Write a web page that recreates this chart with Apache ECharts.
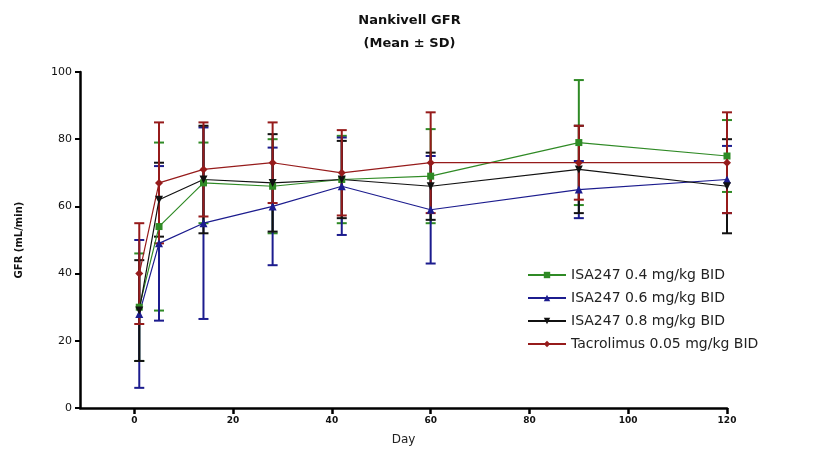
<!DOCTYPE html>
<html>
<head>
<meta charset="utf-8">
<script src="https://cdn.jsdelivr.net/npm/echarts@6/dist/echarts.min.js"></script>
<style>
  html, body { margin: 0; padding: 0; background: #fff; }
  #chart { width: 819px; height: 455px; }
</style>
</head>
<body>
<div id="chart"></div>
<script>
// study days
const days = [1, 5, 14, 28, 42, 60, 90, 120]
const xTicks = [0, 20, 40, 60, 80, 100, 120]

// GFR mean and SD per group (mL/min)
const isa04Mean = [30, 54, 67, 66, 68, 69, 79, 75]
const isa04Sd = [16, 25, 12, 14, 13, 14, 18.6, 10.7]
const isa06Mean = [28, 49, 55, 60, 66, 59, 65, 68]
const isa06Sd = [22, 23, 28.5, 17.5, 14.5, 16, 8.5, 10]
const isa08Mean = [29, 62, 68, 67, 68, 66, 71, 66]
const isa08Sd = [15, 11, 16, 14.5, 11.5, 10, 13, 14]
const tacMean = [40, 67, 71, 73, 70, 73, 73, 73]
const tacSd = [15, 18, 14, 12, 12.7, 15, 11, 15]

const groups = [
  { name: 'ISA247 0.4 mg/kg BID', mean: isa04Mean, sd: isa04Sd, color: '#2f8a25', symbol: 'rect', size: 7 },
  { name: 'ISA247 0.6 mg/kg BID', mean: isa06Mean, sd: isa06Sd, color: '#1c1c8e', symbol: 'triangle', size: 8 },
  { name: 'ISA247 0.8 mg/kg BID', mean: isa08Mean, sd: isa08Sd, color: '#111111', symbol: 'path://M0,0L10,0L5,9Z', size: 8 },
  { name: 'Tacrolimus 0.05 mg/kg BID', mean: tacMean, sd: tacSd, color: '#961b1b', symbol: 'diamond', size: 8 }
]

const chart = echarts.init(document.getElementById('chart'))

const series = []
groups.forEach(function (g) {
  // error bars (mean ± SD)
  series.push({
    name: g.name + ' SD',
    type: 'custom',
    z: 3,
    data: days.map(function (d, i) { return [d, g.mean[i] - g.sd[i], g.mean[i] + g.sd[i]] }),
    renderItem: function (params, api) {
      const lo = api.coord([api.value(0), api.value(1)])
      const hi = api.coord([api.value(0), api.value(2)])
      const w = 5
      const st = { stroke: g.color, lineWidth: 2 }
      return {
        type: 'group',
        children: [
          { type: 'line', shape: { x1: hi[0], y1: hi[1], x2: lo[0], y2: lo[1] }, style: st },
          { type: 'line', shape: { x1: hi[0] - w, y1: hi[1], x2: hi[0] + w, y2: hi[1] }, style: st },
          { type: 'line', shape: { x1: lo[0] - w, y1: lo[1], x2: lo[0] + w, y2: lo[1] }, style: st }
        ]
      }
    }
  })
  series.push({
    name: g.name,
    type: 'line',
    z: 4,
    data: days.map(function (d, i) { return [d, g.mean[i]] }),
    symbol: g.symbol,
    symbolSize: g.size,
    showSymbol: true,
    lineStyle: { color: g.color, width: 1.2 },
    itemStyle: { color: g.color },
    emphasis: { disabled: true }
  })
})

chart.setOption({
  animation: false,
  backgroundColor: '#fff',
  title: {
    text: 'Nankivell GFR\n(Mean ± SD)',
    left: 'center',
    top: 4,
    textStyle: {
      fontFamily: 'DejaVu Sans',
      fontWeight: 'bold',
      fontSize: 13,
      lineHeight: 23,
      color: '#111'
    }
  },
  legend: {
    data: groups.map(function (g) { return g.name }),
    orient: 'vertical',
    left: 522,
    top: 263,
    itemGap: 9,
    itemWidth: 38,
    itemHeight: 8,
    textStyle: { fontFamily: 'DejaVu Sans', fontSize: 14, color: '#222' }
  },
  grid: { left: 80, right: 92, top: 72, bottom: 47 },
  xAxis: {
    type: 'value',
    min: -11,
    max: 120,
    name: 'Day',
    nameLocation: 'middle',
    nameGap: 26,
    nameTextStyle: { fontFamily: 'DejaVu Sans', fontSize: 12, color: '#222' },
    axisLine: { onZero: false, lineStyle: { color: '#000', width: 2.5 } },
    axisTick: { customValues: xTicks, length: 6, lineStyle: { color: '#000', width: 2.5 } },
    axisLabel: { customValues: xTicks, fontFamily: 'DejaVu Sans', fontWeight: 'bold', fontSize: 9, color: '#111', margin: 8 },
    splitLine: { show: false }
  },
  yAxis: {
    type: 'value',
    min: 0,
    max: 100,
    interval: 20,
    name: 'GFR (mL/min)',
    nameLocation: 'middle',
    nameGap: 56,
    nameTextStyle: { fontFamily: 'DejaVu Sans', fontWeight: 'bold', fontSize: 10, color: '#111' },
    axisLine: { show: true, onZero: false, lineStyle: { color: '#000', width: 2.5 } },
    axisTick: { show: true, length: 5, lineStyle: { color: '#000', width: 2 } },
    axisLabel: { fontFamily: 'DejaVu Sans', fontSize: 11, color: '#111', margin: 8 },
    splitLine: { show: false }
  },
  series: series
})
</script>
</body>
</html>
